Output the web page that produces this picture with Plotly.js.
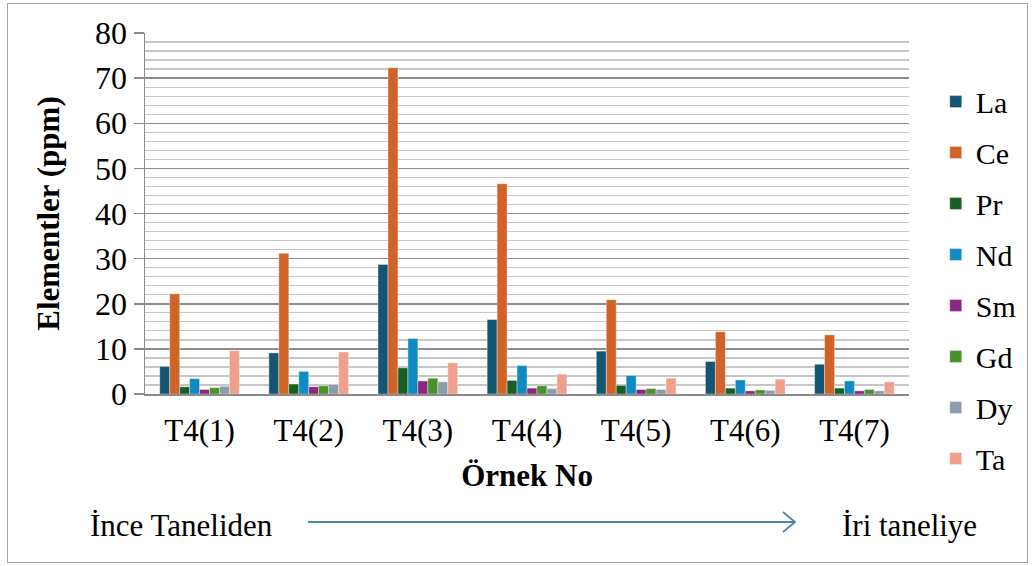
<!DOCTYPE html>
<html>
<head>
<meta charset="utf-8">
<script src="https://cdn.plot.ly/plotly-3.0.1.min.js"></script>
<style>
html,body{margin:0;padding:0;background:#fff;}
#wrap{position:relative;width:1035px;height:566px;}
#chart{width:1035px;height:566px;}
#frame{position:absolute;left:7px;top:3px;width:1019px;height:558px;border:1px solid #a6a6a6;pointer-events:none;}
</style>
</head>
<body>
<div id="wrap"><div id="chart"></div><div id="frame"></div></div>
<script>
const categories = ["T4(1)", "T4(2)", "T4(3)", "T4(4)", "T4(5)", "T4(6)", "T4(7)"];
const La = [6.1, 9.1, 28.7, 16.5, 9.5, 7.2, 6.6];
const Ce = [22.2, 31.2, 72.3, 46.6, 20.9, 13.8, 13.1];
const Pr = [1.6, 2.2, 5.8, 3.0, 1.9, 1.3, 1.3];
const Nd = [3.4, 5.0, 12.3, 6.3, 4.1, 3.1, 2.9];
const Sm = [1.0, 1.6, 2.9, 1.3, 1.0, 0.7, 0.7];
const Gd = [1.4, 1.8, 3.5, 1.8, 1.2, 0.9, 1.0];
const Dy = [1.7, 2.1, 2.7, 1.2, 1.0, 0.8, 0.7];
const Ta = [9.6, 9.3, 6.9, 4.4, 3.5, 3.3, 2.7];

const seriesNames = ["La", "Ce", "Pr", "Nd", "Sm", "Gd", "Dy", "Ta"];
const seriesValues = [La, Ce, Pr, Nd, Sm, Gd, Dy, Ta];
const colors = ["#145572", "#D06328", "#195E22", "#108AC2", "#8B2683", "#47922A", "#8B9CAB", "#EFA08C"];

const FONT = "Liberation Serif";

const traces = seriesNames.map((n, i) => ({
  type: "bar",
  name: n,
  x: categories,
  y: seriesValues[i],
  legendgroup: n,
  marker: {color: colors[i], line: {color: "rgba(255,255,255,0.45)", width: 0.8}},
  hoverinfo: "x+y+name"
}));

const layout = {
  width: 1035, height: 566,
  paper_bgcolor: "#ffffff", plot_bgcolor: "#ffffff",
  margin: {l: 145, r: 126, t: 33, b: 172},
  barmode: "group", bargap: 0.27, bargroupgap: 0,
  font: {family: FONT, color: "#000", size: 30},
  xaxis: {
    type: "category",
    showline: true, linecolor: "#8a8a8a", linewidth: 1.5,
    ticks: "", showgrid: false, ticklabelstandoff: 8,
    tickfont: {family: FONT, size: 31, color: "#000"},
    title: {text: "<b>Örnek No</b>", font: {family: FONT, size: 31, color: "#000"}, standoff: 17}
  },
  yaxis: {
    range: [0, 80], dtick: 10, tick0: 0,
    showline: true, linecolor: "#8a8a8a", linewidth: 1.5,
    ticks: "outside", ticklen: 10, tickcolor: "#8a8a8a", tickwidth: 1.5,
    showgrid: true, gridcolor: "#8c8c8c", gridwidth: 1.5,
    minor: {dtick: 2, showgrid: true, gridcolor: "#c6c6c6", gridwidth: 1.3, ticks: ""},
    zeroline: false,
    tickfont: {family: FONT, size: 32, color: "#000"},
    title: {text: "<b>Elementler (ppm)</b>", font: {family: FONT, size: 31, color: "#000"}, standoff: 26}
  },
  showlegend: true,
  legend: {
    x: 1.035, xanchor: "left", y: 0.882, yanchor: "top",
    traceorder: "grouped", tracegroupgap: 9, maxheight: 520,
    font: {family: FONT, size: 30, color: "#000"},
    bgcolor: "rgba(0,0,0,0)", itemclick: false
  },
  annotations: [
    {xref: "paper", yref: "paper", x: -0.074, y: -0.363, xanchor: "left", yanchor: "middle",
     text: "İnce Taneliden", showarrow: false, font: {family: FONT, size: 31, color: "#000"}},
    {xref: "paper", yref: "paper", x: 0.9097, y: -0.363, xanchor: "left", yanchor: "middle",
     text: "İri taneliye", showarrow: false, font: {family: FONT, size: 31, color: "#000"}}
  ],
  shapes: [
    {type: "line", xref: "paper", yref: "paper",
     x0: (308 - 145) / 764, x1: (795 - 145) / 764, y0: (394 - 522) / 361, y1: (394 - 522) / 361,
     line: {color: "#4f87a0", width: 1.8}},
    {type: "path", xref: "paper", yref: "paper",
     path: "M " + ((783 - 145) / 764) + " " + ((394 - 512) / 361) +
           " L " + ((795 - 145) / 764) + " " + ((394 - 522) / 361) +
           " L " + ((783 - 145) / 764) + " " + ((394 - 532) / 361),
     line: {color: "#4f87a0", width: 1.8}}
  ]
};

Plotly.newPlot("chart", traces, layout, {displayModeBar: false, staticPlot: true});
</script>
</body>
</html>
